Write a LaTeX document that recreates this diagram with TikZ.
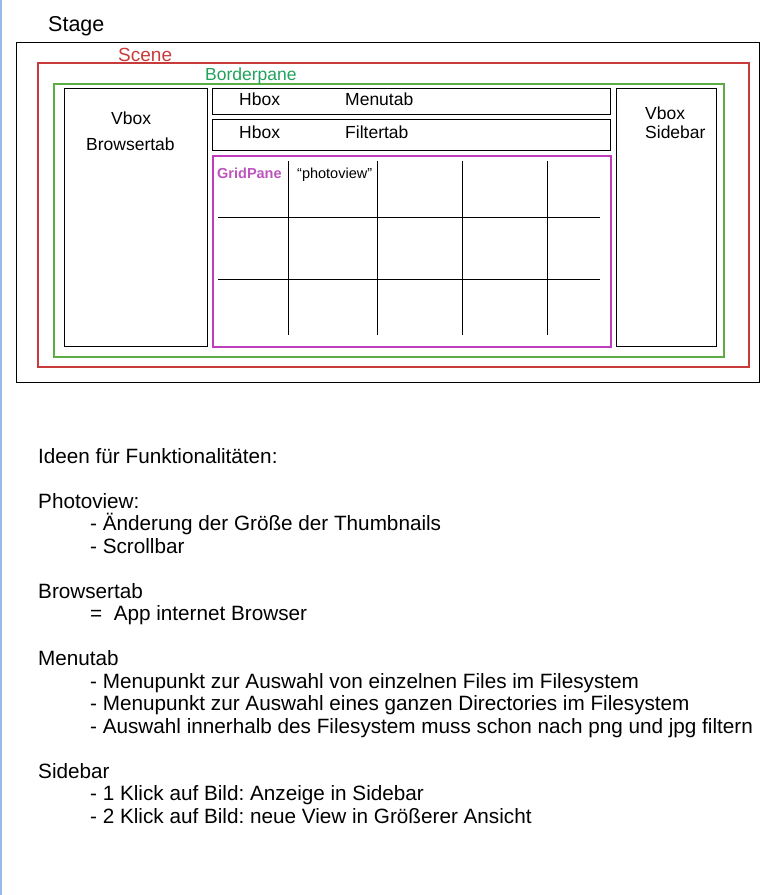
\documentclass[tikz,border=0pt]{standalone}
\usepackage{fontspec}
\setmainfont{Liberation Sans}
\usetikzlibrary{positioning}
\frenchspacing

\definecolor{scenered}{RGB}{201,58,58}
\definecolor{paneline}{RGB}{92,172,70}
\definecolor{panetext}{RGB}{32,162,92}
\definecolor{gridmag}{RGB}{188,62,188}
\definecolor{gridtext}{RGB}{190,84,190}
\definecolor{pageedge}{RGB}{150,185,232}

\tikzset{
  pane/.style={draw, rectangle, inner sep=0pt, anchor=north west, line width=1.2pt},
  lbl/.style={inner sep=0pt, anchor=base west, font=\fontsize{17.5}{21}\selectfont},
  note/.style={inner sep=0pt, anchor=base west, font=\fontsize{20.7}{24}\selectfont},
  gridline/.style={line width=1pt}
}

\begin{document}
\begin{tikzpicture}[x=1pt,y=-1pt]
    \useasboundingbox (0,0) rectangle (784,895);
    \draw[pageedge, line width=1.5pt] (0.75,0) -- (0.75,895);

    % stage / scene / borderpane
    \node[pane, minimum width=743pt, minimum height=340pt] (stage) at (16,42) {};
    \node[pane, scenered, line width=1.6pt, minimum width=711pt, minimum height=304pt] (scene) at (37,62) {};
    \node[pane, paneline, line width=2.2pt, minimum width=670pt, minimum height=273pt] (border) at (53,83) {};

    \node[lbl, font=\fontsize{21.5}{25}\selectfont] (stagelbl) at (48,31) {Stage};
    \node[lbl, scenered, font=\fontsize{19}{23}\selectfont] (scenelbl) at (118,61) {Scene};
    \node[lbl, panetext] (borderlbl) at (205,80) {Borderpane};

    % panes in the borderpane
    \node[pane, minimum width=143pt, minimum height=258pt] (browsertab) at (64,88) {};
    \node[pane, minimum width=398pt, minimum height=26pt] (menutab) at (212,88) {};
    \node[pane, minimum width=398pt, minimum height=31pt] (filtertab) at (212,119) {};
    \node[pane, gridmag, line width=1.8pt, minimum width=398pt, minimum height=191pt] (gridpane) at (212,155) {};
    \node[pane, minimum width=100pt, minimum height=258pt] (sidebar) at (616,88) {};

    \node[lbl] (vboxleft) at (111,124) {Vbox};
    \node[lbl] (browserlbl) at (86,150) {Browsertab};
    \node[lbl] (hboxmenu) at (239,105) {Hbox};
    \node[lbl] (menulbl) at (345,105) {Menutab};
    \node[lbl] (hboxfilter) at (239,138.5) {Hbox};
    \node[lbl] (filterlbl) at (345,138.5) {Filtertab};
    \node[lbl] (vboxright) at (645,119) {Vbox};
    \node[lbl] (sidebarlbl) at (645,138.5) {Sidebar};

    % photoview grid
    \node[lbl, gridtext, font=\fontsize{14.5}{17}\selectfont\bfseries] (gridlbl) at (217,178) {GridPane};
    \node[lbl, font=\fontsize{14.5}{17}\selectfont] (photolbl) at (297,178) {“photoview”};
    \foreach \gx in {288,377,462,547}
        \draw[gridline] (\gx,161) -- (\gx,335);
    \foreach \gy in {217,279}
        \draw[gridline] (218,\gy) -- (600,\gy);

    % notes
    \node[note] (ideen) at (38,463) {Ideen für Funktionalitäten:};
    \node[note] (photo) at (38,508) {Photoview:};
    \node[note] (photoa) at (90,530.5) {- Änderung der Größe der Thumbnails};
    \node[note] (photob) at (90,553) {- Scrollbar};
    \node[note] (browser) at (38,598) {Browsertab};
    \node[note] (browsera) at (90,620.5) {=\ \ App internet Browser};
    \node[note] (menu) at (38,665.5) {Menutab};
    \node[note] (menua) at (90,688) {- Menupunkt zur Auswahl von einzelnen Files im Filesystem};
    \node[note] (menub) at (90,710.5) {- Menupunkt zur Auswahl eines ganzen Directories im Filesystem};
    \node[note] (menuc) at (90,733) {- Auswahl innerhalb des Filesystem muss schon nach png und jpg filtern};
    \node[note] (side) at (38,778) {Sidebar};
    \node[note] (sidea) at (90,800.5) {- 1 Klick auf Bild: Anzeige in Sidebar};
    \node[note] (sideb) at (90,823) {- 2 Klick auf Bild: neue View in Größerer Ansicht};

\end{tikzpicture}
\end{document}
